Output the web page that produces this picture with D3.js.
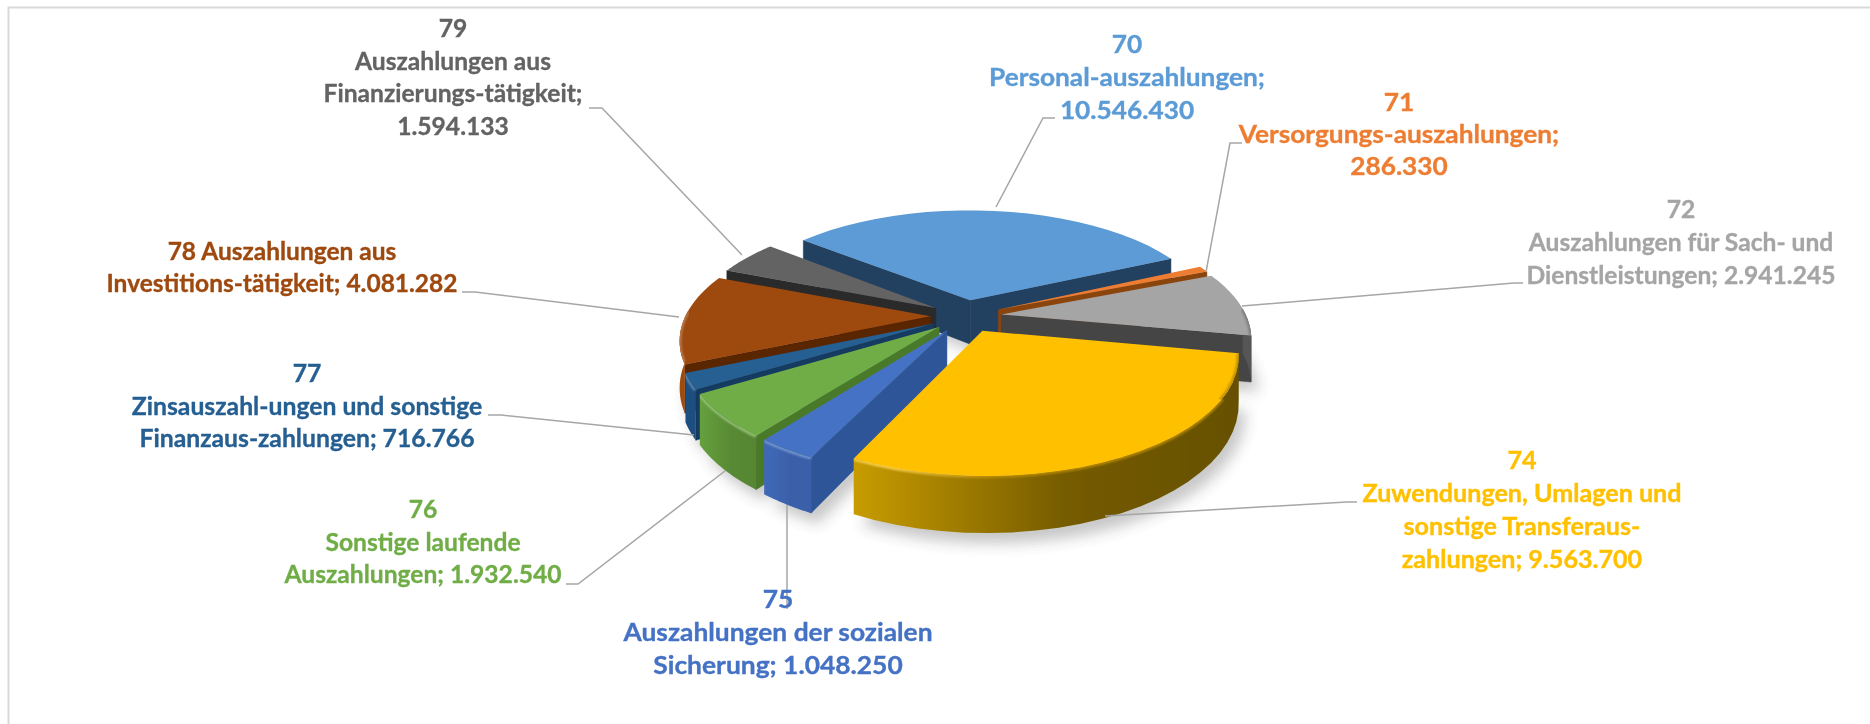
<!DOCTYPE html>
<html><head><meta charset="utf-8">
<script src="https://cdn.jsdelivr.net/npm/d3@7/dist/d3.min.js"></script>
<style>html,body{margin:0;padding:0;background:#fff;overflow:hidden}svg{display:block}</style>
</head><body><div id="c"></div>
<script>
const codes = ["70","71","72","74","75","76","77","78","79"];
const values = [10546430,286330,2941245,9563700,1048250,1932540,716766,4081282,1594133];
const labelLines = [
 ["70","Personal-auszahlungen;","10.546.430"],
 ["71","Versorgungs-auszahlungen;","286.330"],
 ["72","Auszahlungen für Sach- und","Dienstleistungen; 2.941.245"],
 ["74","Zuwendungen, Umlagen und","sonstige Transferaus-","zahlungen; 9.563.700"],
 ["75","Auszahlungen der sozialen","Sicherung; 1.048.250"],
 ["76","Sonstige laufende","Auszahlungen; 1.932.540"],
 ["77","Zinsauszahl-ungen und sonstige","Finanzaus-zahlungen; 716.766"],
 ["78 Auszahlungen aus","Investitions-tätigkeit; 4.081.282"],
 ["79","Auszahlungen aus","Finanzierungs-tätigkeit;","1.594.133"]
];
const colors = ["#5b9bd5","#ed7d31","#a5a5a5","#ffc000","#4472c4","#70ad47","#255e91","#9e480e","#636363"];
const sideColors = ["#24405f","#8a4510","#454545","#6b5200","#2f5597","#4a7a2a","#123a60","#5a2500","#2a2a2a"];
const wallLeft  = ["#3b6c98","#a3561f","#6e6e6e","#c89c00","#3f69b8","#66a03e","#1c5080","#a04d10","#4a4a4a"];
const wallRight = ["#3b6c98","#a3561f","#555555","#665000","#3a5fa8","#568632","#1c5080","#8a4010","#4a4a4a"];

// layout of labels: centre x, first baseline, horizontal text scale, and leader polyline
const labelX = [1127,1399,1681,1522,778,423,307,282,453];
const labelY = [53,111,218,469,608,518,382,260,37];
const labelScale = [1.05,1.05,0.985,1.005,1.055,0.985,0.99,0.98,0.985];
const leaders = [
 [[1055,118],[1043,118],[996,207]],
 [[1242,143],[1230,143],[1206,272]],
 [[1523,283],[1514,283],[1242,306]],
 [[1357,502],[1347,502],[1105,516]],
 [[787,609],[787,505]],
 [[566,584],[578,584],[725,471]],
 [[488,415],[501,415],[694,435]],
 [[462,292],[475,292],[679,317]],
 [[589,108],[602,108],[742,255]]
];

const W=1870,H=724, cx=966, cy=316, R=245, squash=112/245, persp=0.186, depth=45, explode=0.145;
const toRad=Math.PI/180;
const rScale=d3.scaleLinear().domain([0,1]).range([0,R]);
const svg=d3.select("#c").append("svg").attr("width",W).attr("height",H);
const defs=svg.append("defs");
defs.append("filter").attr("id","sh").attr("x","-20%").attr("y","-20%").attr("width","140%").attr("height","140%")
  .append("feGaussianBlur").attr("stdDeviation",7);
defs.append("filter").attr("id","bv").attr("x","-10%").attr("y","-10%").attr("width","120%").attr("height","120%")
  .append("feGaussianBlur").attr("stdDeviation",1.3);
defs.append("filter").attr("id","soft").attr("x","-5%").attr("y","-5%").attr("width","110%").attr("height","110%")
  .append("feGaussianBlur").attr("stdDeviation",0.45);
defs.append("filter").attr("id","softT").attr("x","-5%").attr("y","-5%").attr("width","110%").attr("height","110%")
  .append("feGaussianBlur").attr("stdDeviation",0.3);

svg.append("path").attr("d",`M8.5,${H} V7.5 H${W}`).attr("fill","none").attr("stroke","#d9d9d9").attr("stroke-width",2);

const proj=(X,Y,Z)=>{const s=1/(1+persp*Y);
  return [cx+rScale(X)*s, cy-rScale(Y)*squash*s+Z*depth*s];};
const line=d3.line();
const pie=d3.pie().value(d=>d).sort(null).startAngle(-51*toRad).endAngle(309*toRad);
const arcs=pie(values).map((a,i)=>{
  const mid=(a.startAngle+a.endAngle)/2;
  const ox=Math.sin(mid)*explode, oy=Math.cos(mid)*explode;
  const th=d3.range(0,25).map(k=>a.startAngle+(a.endAngle-a.startAngle)*k/24);
  const at=(t,z)=>proj(ox+Math.sin(t),oy+Math.cos(t),z);
  const rim=z=>th.map(t=>at(t,z));
  const frontTh=th.filter(t=>Math.cos(t)<0.06);
  const apex=z=>proj(ox,oy,z);
  return {i,mid,oy,a,rim,apex,ox,at,frontTh};
});

const chart=svg.append("g").attr("filter","url(#soft)");
const shadow=chart.append("g").attr("filter","url(#sh)").attr("opacity",0.32);
arcs.forEach(d=>{
  shadow.append("path").attr("d",line([d.apex(1.1),...d.rim(1.1)])+"Z").attr("fill","#555").attr("transform","translate(7,5)");
});

const order=arcs.slice().sort((p,q)=>q.oy-p.oy);
order.forEach(d=>{
  const g=chart.append("g");
  const top=d.rim(0), bot=d.rim(1), a0=d.apex(0), a1=d.apex(1);
  const id="w"+d.i;
  const xs=top.map(p=>p[0]);
  const grad=defs.append("linearGradient").attr("id",id).attr("gradientUnits","userSpaceOnUse")
    .attr("x1",d3.min(xs)).attr("x2",d3.max(xs)).attr("y1",0).attr("y2",0);
  grad.append("stop").attr("offset",0).attr("stop-color",wallLeft[d.i]);
  grad.append("stop").attr("offset",0.55).attr("stop-color",d3.interpolateRgb(wallLeft[d.i],wallRight[d.i])(0.85));
  grad.append("stop").attr("offset",1).attr("stop-color",wallRight[d.i]);
  // only the side walls that face the viewer
  if(Math.sin(d.a.startAngle)<0)
    g.append("path").attr("d",line([a0,top[0],bot[0],a1])+"Z").attr("fill",sideColors[d.i]).attr("stroke",sideColors[d.i]).attr("stroke-width",0.5);
  if(Math.sin(d.a.endAngle)>0)
    g.append("path").attr("d",line([a0,top[24],bot[24],a1])+"Z").attr("fill",sideColors[d.i]).attr("stroke",sideColors[d.i]).attr("stroke-width",0.5);
  // only the front part of the outer wall
  if(d.frontTh.length>1){
    const wt=d.frontTh.map(t=>d.at(t,0)), wb=d.frontTh.map(t=>d.at(t,1));
    g.append("path").attr("d",line([...wt,...wb.reverse()])+"Z").attr("fill",`url(#${id})`);
  }
  g.append("path").attr("d",line([a0,...top])+"Z").attr("fill",colors[d.i]);
  // bevel on the rim: light on the left of the pie, dark on the right
  const clipId="cl"+d.i;
  defs.append("clipPath").attr("id",clipId).append("path").attr("d",line([a0,...top,...bot.slice().reverse(),a1])+"Z");
  const bg=defs.append("linearGradient").attr("id","b"+d.i).attr("gradientUnits","userSpaceOnUse")
    .attr("x1",cx-R).attr("x2",cx+R).attr("y1",0).attr("y2",0);
  const light=d3.interpolateRgb(colors[d.i],"#ffffff")(0.3), dark=d3.color(colors[d.i]).darker(0.9);
  [[0,light],[0.35,light],[0.55,dark],[1,dark]].forEach(s=>bg.append("stop").attr("offset",s[0]).attr("stop-color",s[1]));
  const clipG=g.append("g").attr("clip-path",`url(#${clipId})`);
  if(d.frontTh.length>1)
    clipG.append("path").attr("d",line(d.frontTh.map(t=>d.at(t,0)))).attr("fill","none")
      .attr("stroke",`url(#b${d.i})`).attr("stroke-width",4).attr("filter","url(#bv)").attr("opacity",0.9);
});

svg.append("g").selectAll("path").data(leaders).join("path")
  .attr("d",d=>line(d)).attr("fill","none").attr("stroke","#a6a6a6").attr("stroke-width",1.5);

const lh=[33,32,33,33,33,32.5,32.5,32,32.5];
const txt=svg.append("g").attr("font-family","Lato, 'Noto Sans', sans-serif").attr("font-weight",700).attr("font-size",25).attr("filter","url(#softT)");
labelLines.forEach((ls,i)=>{
  ls.forEach((s,j)=>{
    txt.append("text").attr("text-anchor","middle").attr("fill",colors[i]).attr("stroke",colors[i]).attr("stroke-width",0.35)
      .attr("transform",`translate(${labelX[i]},${labelY[i]+j*lh[i]}) scale(${labelScale[i]},1)`)
      .text(s);
  });
});
</script></body></html>
